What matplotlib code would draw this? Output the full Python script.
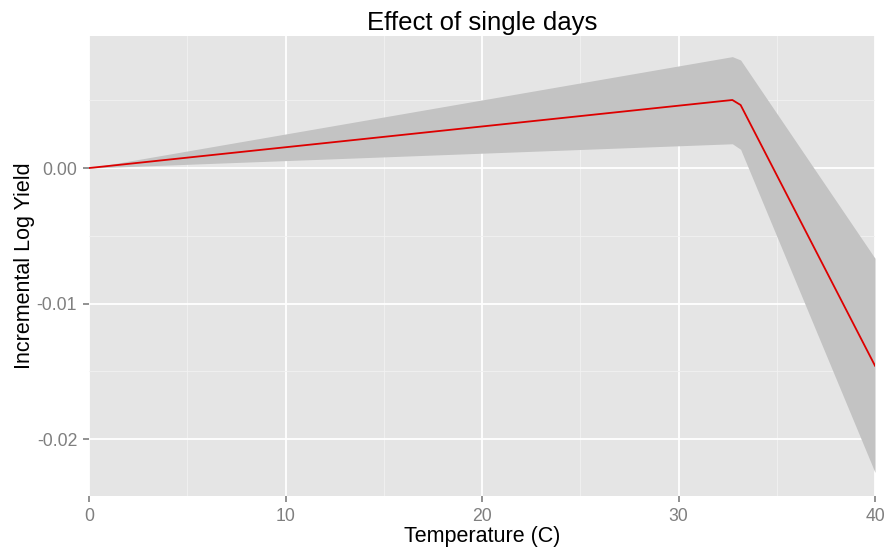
import numpy as np
import matplotlib.pyplot as plt

plt.rcParams['font.family'] = ['Liberation Sans', 'DejaVu Sans']

# piecewise-linear temperature response and its confidence band
temp = [0, 32.74, 33.16, 40]
effect = [0.0, 0.00502, 0.00465, -0.01459]
upper = [0.0, 0.00822, 0.00797, -0.00666]
lower = [0.0, 0.00179, 0.00138, -0.02246]

fig = plt.figure(figsize=(8.86, 5.5), dpi=100)
ax = fig.add_axes([0.1005, 0.0982, 0.8871, 0.8363])
ax.set_facecolor('#E5E5E5')

ax.fill_between(temp, lower, upper, color='#C3C3C3', linewidth=0, zorder=2)
ax.plot(temp, effect, color='#DD0000', linewidth=1.3, zorder=3)

ax.set_xlim(0, 40)
ax.set_ylim(-0.0242, 0.00974)
ax.set_xticks([0, 10, 20, 30, 40])
ax.set_xticks([5, 15, 25, 35], minor=True)
ax.set_yticks([-0.02, -0.01, 0.0])
ax.set_yticklabels(['-0.02', '-0.01', '0.00'])
ax.set_yticks([-0.015, -0.005, 0.005], minor=True)

ax.grid(which='major', color='white', linewidth=1.3, zorder=1)
ax.grid(which='minor', color='#F2F2F2', linewidth=0.6, zorder=1)
ax.set_axisbelow(True)

for s in ax.spines.values():
    s.set_visible(False)
ax.tick_params(which='major', colors='#7F7F7F', labelsize=12.7, length=4.5, width=1.2, pad=4)
ax.tick_params(which='minor', length=0)

ax.set_xlabel('Temperature (C)', fontsize=15.5, labelpad=1)
ax.set_ylabel('Incremental Log Yield', fontsize=15.5, labelpad=1.5)
ax.set_title('Effect of single days', fontsize=18.5, pad=4)

fig.savefig('out.png', dpi=100)
